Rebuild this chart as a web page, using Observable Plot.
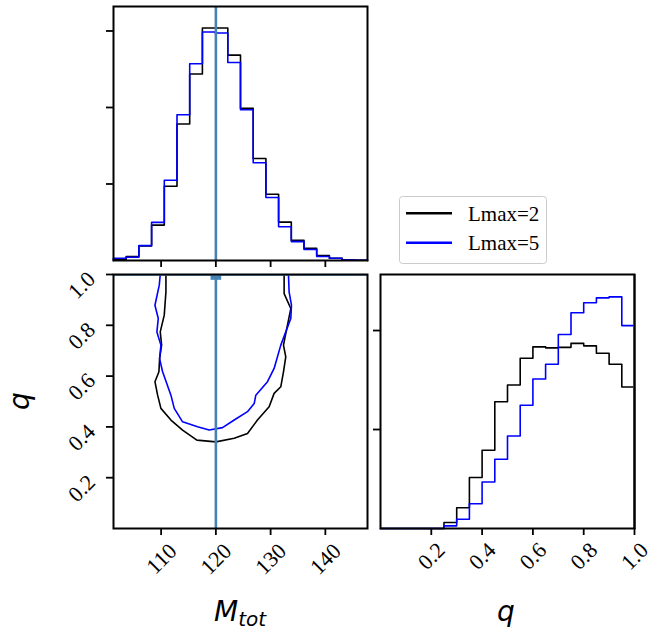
<!DOCTYPE html>
<html>
<head>
<meta charset="utf-8">
<script src="https://cdn.jsdelivr.net/npm/d3@7"></script>
<script src="https://cdn.jsdelivr.net/npm/@observablehq/plot@0.6"></script>
<style>
  html, body { margin: 0; padding: 0; background: #fff; }
  #chart { position: relative; width: 668px; height: 632px; background: #fff; }
  #chart > svg, #chart > figure { position: absolute; left: 0; top: 0; margin: 0; }
</style>
</head>
<body>
<div id="chart"></div>
<script>
// ---------- data ----------
const seriesNames = ["Lmax=2", "Lmax=5"];
const seriesColors = ["#000000", "#0000ff"];
const truthColor = "#4682b4";
const mTruth = 120;
const qTruth = 1.0;

// M_tot histogram (20 bins), relative density (tick units)
const mEdges = [101.30, 103.62, 105.94, 108.26, 110.58, 112.90, 115.22, 117.54, 119.86, 122.18, 124.50,
                126.82, 129.14, 131.46, 133.78, 136.10, 138.42, 140.74, 143.06, 145.38, 147.70];
const mHistL2 = [0.017, 0.052, 0.19, 0.463, 0.97, 1.784, 2.437, 3.039, 3.039, 2.684,
                 1.991, 1.333, 0.866, 0.502, 0.264, 0.16, 0.065, 0.03, 0.009, 0.004];
const mHistL5 = [0.03, 0.043, 0.195, 0.498, 1.048, 1.905, 2.571, 2.987, 2.974, 2.589,
                 1.97, 1.277, 0.823, 0.442, 0.247, 0.143, 0.052, 0.03, 0.009, 0.004];

// q histogram (20 bins)
const qEdges = [0, 0.05, 0.10, 0.15, 0.20, 0.25, 0.30, 0.35, 0.40, 0.45, 0.50,
                0.55, 0.60, 0.65, 0.70, 0.75, 0.80, 0.85, 0.90, 0.95, 1.00];
const qHistL2 = [0, 0, 0, 0, 0, 0.06, 0.21, 0.515, 0.79, 1.28,
                 1.45, 1.72, 1.835, 1.825, 1.83, 1.87, 1.845, 1.77, 1.66, 1.43];
const qHistL5 = [0, 0, 0, 0, 0, 0.027, 0.094, 0.25, 0.47, 0.70,
                 0.935, 1.245, 1.51, 1.66, 1.96, 2.18, 2.28, 2.33, 2.34, 2.05];

// 2D contour (M_tot, q)
const contL2M = [110.88, 110.88, 110.57, 109.84, 110.09, 109.72, 109.60, 108.87, 109.36, 109.96, 111.79, 113.92, 116.53, 120.00,
                 123.35, 125.78, 127.60, 129.73, 130.64, 131.86, 132.35, 132.77, 132.35, 133.08, 133.69, 132.47, 132.47];
const contL2Q = [1.00, 0.932, 0.840, 0.774, 0.722, 0.669, 0.617, 0.578, 0.525, 0.473, 0.427, 0.387, 0.348, 0.341,
                 0.355, 0.374, 0.427, 0.479, 0.532, 0.558, 0.617, 0.676, 0.722, 0.801, 0.866, 0.925, 1.00];
const contL5M = [109.84, 109.66, 108.87, 109.48, 109.23, 109.96, 109.72, 110.27, 111.79, 112.40, 113.92, 116.65, 118.78, 121.22,
                 123.35, 125.78, 127.00, 127.30, 129.43, 130.64, 131.86, 132.77, 133.69, 133.81, 133.38, 133.26];
const contL5Q = [1.00, 0.958, 0.879, 0.827, 0.774, 0.722, 0.669, 0.617, 0.525, 0.473, 0.420, 0.401, 0.388, 0.397,
                 0.427, 0.460, 0.492, 0.525, 0.578, 0.630, 0.722, 0.774, 0.827, 0.879, 0.932, 1.00];

// ticks
const mTicks = [110, 120, 130, 140];
const qTicks = [0.2, 0.4, 0.6, 0.8, 1.0];
const mHistTicks = [1, 2, 3];
const qHistTicks = [1, 2];

// ---------- helpers ----------
function stepPts(edges, vals) {
  const pts = [{x: edges[0], y: 0}];
  vals.forEach((v, i) => { pts.push({x: edges[i], y: v}, {x: edges[i + 1], y: v}); });
  pts.push({x: edges[edges.length - 1], y: 0});
  return pts;
}
function zipXY(xs, ys) { return xs.map((x, i) => ({x, y: ys[i]})); }

const FONT = "'Liberation Serif', 'Times New Roman', serif";
const TICKFS = 22;
const common = {
  width: 668, height: 632,
  style: {background: "transparent", overflow: "visible", fontFamily: FONT, fontSize: "22px", color: "black"}
};
const emptyFmt = () => "";

// ---------- panel A: M_tot histogram ----------
const panelA = Plot.plot({
  ...common,
  marginLeft: 113, marginRight: 301, marginTop: 6, marginBottom: 372,
  x: {domain: [101.3, 147.7]},
  y: {domain: [0, 3.32]},
  marks: [
    Plot.line(stepPts(mEdges, mHistL2), {x: "x", y: "y", stroke: seriesColors[0], strokeWidth: 1.6}),
    Plot.line(stepPts(mEdges, mHistL5), {x: "x", y: "y", stroke: seriesColors[1], strokeWidth: 1.6}),
    Plot.ruleX([mTruth], {stroke: truthColor, strokeWidth: 2.6}),
    Plot.frame({stroke: "black", strokeWidth: 2}),
    Plot.axisX({ticks: mTicks, tickSize: 7, tickFormat: emptyFmt, label: null, strokeWidth: 1.8}),
    Plot.axisY({ticks: mHistTicks, tickSize: 7, tickFormat: emptyFmt, label: null, strokeWidth: 1.8})
  ]
});

// ---------- panel C: 2D contour ----------
const panelC = Plot.plot({
  ...common,
  marginLeft: 113, marginRight: 301, marginTop: 274, marginBottom: 104,
  x: {domain: [101.3, 147.7]},
  y: {domain: [0, 1]},
  marks: [
    Plot.line(zipXY(contL2M, contL2Q), {x: "x", y: "y", stroke: seriesColors[0], strokeWidth: 1.6, clip: true}),
    Plot.line(zipXY(contL5M, contL5Q), {x: "x", y: "y", stroke: seriesColors[1], strokeWidth: 1.6, clip: true}),
    Plot.ruleX([mTruth], {stroke: truthColor, strokeWidth: 2.6}),
    Plot.ruleY([qTruth], {stroke: truthColor, strokeWidth: 2.6, clip: true}),
    Plot.dot([{x: mTruth, y: qTruth}], {x: "x", y: "y", symbol: "square", r: 6, fill: truthColor, stroke: null, clip: true}),
    Plot.frame({stroke: "black", strokeWidth: 2}),
    Plot.axisX({ticks: mTicks, tickSize: 7, tickFormat: emptyFmt, label: null, strokeWidth: 1.8}),
    Plot.axisY({ticks: qTicks, tickSize: 7, tickFormat: emptyFmt, label: null, strokeWidth: 1.8}),
    Plot.text(mTicks, {x: d => d, frameAnchor: "bottom", text: d => d3.format("d")(d), rotate: -45,
      textAnchor: "end", lineAnchor: "middle", dx: 12, dy: 19, fontSize: TICKFS, fontFamily: FONT, fill: "black"}),
    Plot.text(qTicks, {y: d => d, frameAnchor: "left", text: d => d3.format(".1f")(d), rotate: -45,
      textAnchor: "end", lineAnchor: "middle", dx: -22, dy: 1, fontSize: TICKFS, fontFamily: FONT, fill: "black"})
  ]
});

// ---------- panel D: q histogram ----------
const panelD = Plot.plot({
  ...common,
  marginLeft: 380, marginRight: 34, marginTop: 274, marginBottom: 104,
  x: {domain: [0, 1]},
  y: {domain: [0, 2.566]},
  marks: [
    Plot.line(stepPts(qEdges, qHistL2), {x: "x", y: "y", stroke: seriesColors[0], strokeWidth: 1.6}),
    Plot.line(stepPts(qEdges, qHistL5), {x: "x", y: "y", stroke: seriesColors[1], strokeWidth: 1.6}),
    Plot.ruleX([qTruth], {stroke: truthColor, strokeWidth: 2.6}),
    Plot.frame({stroke: "black", strokeWidth: 2}),
    Plot.axisX({ticks: qTicks, tickSize: 7, tickFormat: emptyFmt, label: null, strokeWidth: 1.8}),
    Plot.axisY({ticks: qHistTicks, tickSize: 7, tickFormat: emptyFmt, label: null, strokeWidth: 1.8}),
    Plot.text(qTicks, {x: d => d, frameAnchor: "bottom", text: d => d3.format(".1f")(d), rotate: -45,
      textAnchor: "end", lineAnchor: "middle", dx: 10, dy: 18, fontSize: TICKFS, fontFamily: FONT, fill: "black"})
  ]
});

const chart = document.getElementById("chart");
chart.append(panelA, panelC, panelD);

// ---------- overlay: axis labels and legend ----------
const NS = "http://www.w3.org/2000/svg";
const ov = document.createElementNS(NS, "svg");
ov.setAttribute("width", 668);
ov.setAttribute("height", 632);
ov.style.overflow = "visible";
ov.innerHTML = `
  <g font-family="'DejaVu Sans', sans-serif" font-style="italic" fill="black">
    <text x="240" y="621" font-size="28" text-anchor="middle">M<tspan font-size="20" dy="5">tot</tspan></text>
    <text x="506" y="621" font-size="28" text-anchor="middle">q</text>
    <text transform="translate(28.5,401) rotate(-90)" font-size="28" text-anchor="middle">q</text>
  </g>
  <g>
    <rect x="399.5" y="196.5" width="147" height="67" rx="3" ry="3" fill="white" fill-opacity="0.8" stroke="#cccccc" stroke-width="1"/>
    <line x1="406" x2="452" y1="213.3" y2="213.3" stroke="${seriesColors[0]}" stroke-width="2.6"/>
    <line x1="406" x2="452" y1="242.7" y2="242.7" stroke="${seriesColors[1]}" stroke-width="2.6"/>
    <text x="468" y="221" font-family="${FONT.replace(/"/g, "'")}" font-size="21" fill="black">${seriesNames[0]}</text>
    <text x="468" y="250" font-family="${FONT.replace(/"/g, "'")}" font-size="21" fill="black">${seriesNames[1]}</text>
  </g>`;
chart.append(ov);
</script>
</body>
</html>
